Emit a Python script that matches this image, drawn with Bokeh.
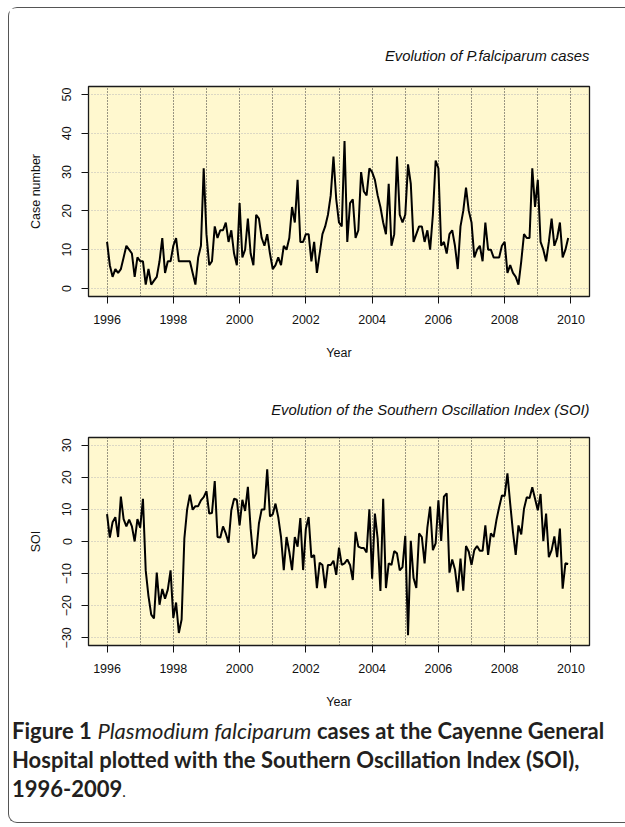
from bokeh.plotting import figure
from bokeh.models import FixedTicker, Range1d, Div
from bokeh.layouts import column
from bokeh.embed import file_html
from bokeh.resources import INLINE

# ---------------- data ----------------
start_year = 1996
n_months = 168  # Jan 1996 .. Dec 2009

cases = [
    12, 6, 3, 5, 4, 5, 8, 11, 10, 9, 3, 8,        # 1996
    7, 7, 1, 5, 1, 2, 3, 7, 13, 4, 7, 7,          # 1997
    11, 13, 7, 7, 7, 7, 7, 4, 1, 8, 11, 31,       # 1998
    14, 6, 7, 16, 13, 15, 15, 17, 12, 15, 9, 6,   # 1999
    22, 8, 10, 18, 9, 6, 19, 18, 13, 11, 14, 9,   # 2000
    5, 6, 8, 6, 11, 10, 13, 21, 17, 28, 12, 12,   # 2001
    14, 14, 7, 12, 4, 9, 14, 16, 19, 24, 34, 23,  # 2002
    17, 16, 38, 12, 22, 23, 13, 15, 30, 25, 24, 31,  # 2003
    30, 28, 24, 21, 17, 14, 27, 11, 14, 34, 19, 17,  # 2004
    19, 32, 27, 12, 14, 16, 16, 12, 15, 10, 19, 33,  # 2005
    31, 11, 12, 9, 14, 15, 11, 5, 16, 20, 26, 20,    # 2006
    17, 8, 10, 11, 7, 17, 10, 10, 8, 8, 8, 11,       # 2007
    12, 4, 6, 4, 3, 1, 7, 14, 13, 13, 31, 21,        # 2008
    28, 12, 10, 7, 12, 18, 11, 13, 17, 8, 10, 13,    # 2009
]

soi = [
    8.5, 1.2, 6.0, 7.6, 1.4, 14.0, 7.0, 4.7, 6.8, 4.7, 0.0, 7.0,            # 1996
    4.3, 13.3, -9.0, -17.0, -22.8, -24.0, -9.7, -19.7, -14.8, -17.8, -15.0, -9.0,  # 1997
    -23.8, -19.0, -28.5, -24.3, 1.0, 10.0, 14.6, 9.9, 11.0, 11.0, 12.8, 13.8,  # 1998
    15.7, 8.7, 8.9, 18.8, 1.4, 1.2, 4.7, 2.5, -0.4, 9.7, 13.3, 13.0,         # 1999
    5.0, 13.0, 9.5, 17.0, 4.0, -5.3, -3.7, 5.6, 10.0, 10.0, 22.5, 7.8,       # 2000
    8.5, 11.8, 7.6, 1.4, -8.9, 1.4, -3.2, -8.9, 1.4, -1.6, 7.3, -8.9,        # 2001
    4.0, 7.6, -5.0, -4.2, -14.5, -6.6, -7.3, -14.5, -7.3, -7.3, -6.0, -10.4, # 2002
    -1.9, -7.3, -6.8, -5.6, -7.3, -12.0, 3.0, -1.6, -2.0, -2.0, -3.4, 10.0,  # 2003
    -11.6, 8.7, 0.9, -15.4, 13.3, -14.5, -6.8, -7.3, -3.0, -3.7, -9.0, -8.0, # 2004
    1.8, -29.2, 0.2, -11.4, -14.5, 2.5, 1.4, -6.8, 4.3, 10.9, -2.7, -0.6,    # 2005
    12.8, 0.2, 14.0, 15.0, -9.7, -5.6, -8.7, -15.8, -5.3, -15.3, -1.4, -3.2, # 2006
    -7.3, -2.7, -1.4, -2.9, -2.9, 5.0, -4.2, 2.5, 1.4, 6.6, 10.7, 14.3,      # 2007
    14.2, 21.2, 11.8, 3.0, -4.2, 5.0, 2.2, 10.2, 13.8, 13.5, 16.9, 13.3,     # 2008
    9.7, 14.8, 0.1, 8.7, -4.9, -2.7, 1.6, -4.9, 4.0, -14.7, -6.8, -7.0,      # 2009
]

x_tick_years = [1996, 1998, 2000, 2002, 2004, 2006, 2008, 2010]
x_tick_labels = ["1996", "1998", "2000", "2002", "2004", "2006", "2008", "2010"]
grid_years = [1996, 1997, 1998, 1999, 2000, 2001, 2002, 2003, 2004, 2005,
              2006, 2007, 2008, 2009, 2010]
case_ticks = [0, 10, 20, 30, 40, 50]
case_tick_labels = ["0", "10", "20", "30", "40", "50"]
soi_ticks = [-30, -20, -10, 0, 10, 20, 30]
soi_tick_labels = ["\u221230", "\u221220", "\u221210", "0", "10", "20", "30"]

months = [start_year + i / 12 for i in range(n_months)]

# ---------------- style ----------------
FONT = "Liberation Sans"
BG = "#FFF8CF"
FIG_W = 614


def make_fig(height, top, bottom, y_range, yticks, ylabels, ylabel, title, title_standoff):
    p = figure(width=FIG_W, height=height,
               x_range=Range1d(1995.44, 2010.56), y_range=Range1d(*y_range),
               output_backend="svg", toolbar_location=None,
               min_border_left=79, min_border_right=34,
               min_border_top=top, min_border_bottom=bottom)
    p.background_fill_color = BG
    p.border_fill_color = "white"
    p.outline_line_color = "#1a1a1a"
    p.outline_line_width = 1.3

    p.title.text = title
    p.title.align = "right"
    p.title.text_font = FONT
    p.title.text_font_style = "italic"
    p.title.text_font_size = "14.8px"
    p.title.text_color = "#111111"
    p.title.standoff = title_standoff

    for ax in (p.xaxis, p.yaxis):
        ax.axis_line_color = None
        ax.major_tick_line_color = "#111111"
        ax.major_tick_out = 7
        ax.major_tick_in = 0
        ax.minor_tick_line_color = None
        ax.major_label_text_font = FONT
        ax.major_label_text_font_size = "12.5px"
        ax.major_label_text_color = "#111111"
        ax.axis_label_text_font = FONT
        ax.axis_label_text_font_size = "12.5px"
        ax.axis_label_text_font_style = "normal"
        ax.axis_label_text_color = "#111111"

    p.xaxis.ticker = FixedTicker(ticks=x_tick_years)
    p.xaxis.major_label_overrides = dict(zip(x_tick_years, x_tick_labels))
    p.xaxis.major_label_standoff = 11
    p.xaxis.axis_label = "Year"
    p.xaxis.axis_label_standoff = 19

    p.yaxis.ticker = FixedTicker(ticks=yticks)
    p.yaxis.major_label_overrides = dict(zip(yticks, ylabels))
    p.yaxis.major_label_orientation = "vertical"
    p.yaxis.major_label_standoff = 10
    p.yaxis.axis_label = ylabel
    p.yaxis.axis_label_standoff = 17

    p.xgrid.ticker = FixedTicker(ticks=grid_years)
    p.xgrid.grid_line_color = "#333333"
    p.xgrid.grid_line_dash = "1 2"
    p.xgrid.grid_line_width = 1
    p.ygrid.ticker = FixedTicker(ticks=yticks)
    p.ygrid.grid_line_color = "#b8b8b8"
    p.ygrid.grid_line_dash = "1 2"
    p.ygrid.grid_line_width = 1
    return p


p1 = make_fig(371, 78, 83, (-2.08, 52.08), case_ticks, case_tick_labels,
              "Case number", "Evolution of P.falciparum cases", 45)
p1.line(months, cases, line_color="black", line_width=2)

p2 = make_fig(332, 57, 65, (-32.4, 32.4), soi_ticks, soi_tick_labels,
              "SOI", "Evolution of the Southern Oscillation Index (SOI)", 40)
p2.line(months, soi, line_color="black", line_width=2)

caption = Div(
    text=("<div style='position:relative; left:-2px'>"
          "<b>Figure 1</b> <i>Plasmodium falciparum</i> <b>cases at the Cayenne General</b><br>"
          "<b>Hospital plotted with the Southern Oscillation Index (SOI),</b><br>"
          "<b>1996-2009</b><span style='font-size:15px'>.</span></div>"),
    width=FIG_W, height=101,
    styles={"font-family": "Lato", "font-size": "22px", "line-height": "29px",
            "color": "#231f20", "white-space": "nowrap"},
)

layout = column(p1, p2, caption,
                styles={"border": "1.5px solid #555555", "border-right": "none",
                        "border-radius": "9px 0 0 9px",
                        "margin-left": "8px", "margin-top": "7px"})

open("out.html", "w").write(file_html(layout, INLINE))
